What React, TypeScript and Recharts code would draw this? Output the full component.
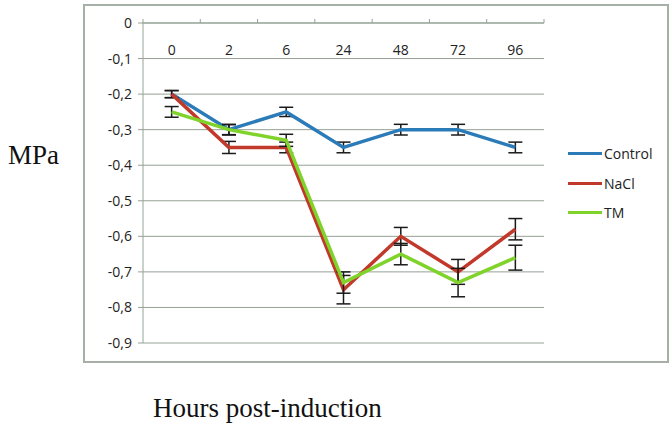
import { LineChart, Line, XAxis, YAxis, CartesianGrid, ErrorBar } from 'recharts';

const hours = ['0', '2', '6', '24', '48', '72', '96'];
const control = [-0.2, -0.3, -0.25, -0.35, -0.3, -0.3, -0.35];
const controlErr = [0.01, 0.015, 0.013, 0.015, 0.015, 0.015, 0.015];
const nacl = [-0.2, -0.35, -0.35, -0.75, -0.6, -0.7, -0.58];
const naclErr = [0.01, 0.017, 0.015, 0.04, 0.025, 0.035, 0.03];
const tm = [-0.25, -0.3, -0.33, -0.73, -0.65, -0.73, -0.66];
const tmErr = [0.015, 0.014, 0.017, 0.03, 0.03, 0.04, 0.035];
const yTicks = [0, -0.1, -0.2, -0.3, -0.4, -0.5, -0.6, -0.7, -0.8, -0.9];

const data = hours.map((h, i) => ({
  h,
  control: control[i],
  controlErr: controlErr[i],
  nacl: nacl[i],
  naclErr: naclErr[i],
  tm: tm[i],
  tmErr: tmErr[i],
}));

const series = [
  { key: 'control', name: 'Control', color: '#2b7bb9' },
  { key: 'nacl', name: 'NaCl', color: '#c1392b' },
  { key: 'tm', name: 'TM', color: '#80d32b' },
];

const gridColor = '#95a195';
const tickFont = "'Open Sans', sans-serif";
const PLOT_LEFT = 143;
const PLOT_RIGHT = 544;
const PLOT_TOP = 23;
const band = (PLOT_RIGHT - PLOT_LEFT) / hours.length;

function HourTick(props: any) {
  const { x, payload, index } = props;
  return (
    <g>
      <text x={x} y={PLOT_TOP + 28} textAnchor="middle" dominantBaseline="middle" fontSize={14} fontFamily={tickFont} fill="#222">
        {payload.value}
      </text>
      <line x1={x - band / 2} x2={x - band / 2} y1={PLOT_TOP} y2={PLOT_TOP - 4} stroke={gridColor} />
      {index === hours.length - 1 && (
        <line x1={x + band / 2} x2={x + band / 2} y1={PLOT_TOP} y2={PLOT_TOP - 4} stroke={gridColor} />
      )}
    </g>
  );
}

export default function App() {
  return (
    <div style={{ position: 'absolute', left: 0, top: 0, width: 671, height: 429, background: '#fff' }}>
      <div style={{ position: 'absolute', left: 83, top: 4, width: 586, height: 359, border: '2px solid #a6b0a6', boxSizing: 'border-box' }} />
      <div style={{ position: 'absolute', left: 8, top: 140, fontFamily: "'Liberation Serif', serif", fontSize: 27, color: '#111' }}>MPa</div>
      <div style={{ position: 'absolute', left: 153, top: 393, fontFamily: "'Liberation Serif', serif", fontSize: 27, color: '#111' }}>
        Hours post-induction
      </div>
      <div style={{ position: 'absolute', left: 568, top: 139, fontFamily: tickFont, fontSize: 14, color: '#222' }}>
        {series.map((s) => (
          <div key={s.key} style={{ display: 'flex', alignItems: 'center', height: 29.5 }}>
            <div style={{ width: 34, height: 3, background: s.color, marginRight: 2 }} />
            <span>{s.name}</span>
          </div>
        ))}
      </div>
      <div style={{ position: 'absolute', left: 0, top: 0 }}>
        <LineChart width={671} height={429} data={data} margin={{ top: 3, left: 83, right: 671 - PLOT_RIGHT, bottom: 86 }}>
          <CartesianGrid vertical={false} stroke={gridColor} />
          <XAxis
            dataKey="h"
            orientation="top"
            scale="band"
            height={20}
            axisLine={{ stroke: gridColor }}
            tickLine={false}
            tick={<HourTick />}
            interval={0}
          />
          <YAxis
            type="number"
            domain={[-0.9, 0]}
            ticks={yTicks}
            width={60}
            axisLine={{ stroke: gridColor }}
            tickLine={{ stroke: gridColor }}
            tickSize={5}
            tickMargin={6}
            tick={{ fontSize: 14, fontFamily: tickFont, fill: '#222' }}
            tickFormatter={(v: number) => (v === 0 ? '0' : v.toFixed(1).replace('.', ','))}
          />
          {series.map((s) => (
            <Line
              key={s.key}
              type="linear"
              dataKey={s.key}
              name={s.name}
              stroke={s.color}
              strokeWidth={3.5}
              dot={false}
              activeDot={false}
              isAnimationActive={false}
            >
              <ErrorBar dataKey={s.key + 'Err'} direction="y" width={7} stroke="#1a1a1a" strokeWidth={1.5} />
            </Line>
          ))}
        </LineChart>
      </div>
    </div>
  );
}
